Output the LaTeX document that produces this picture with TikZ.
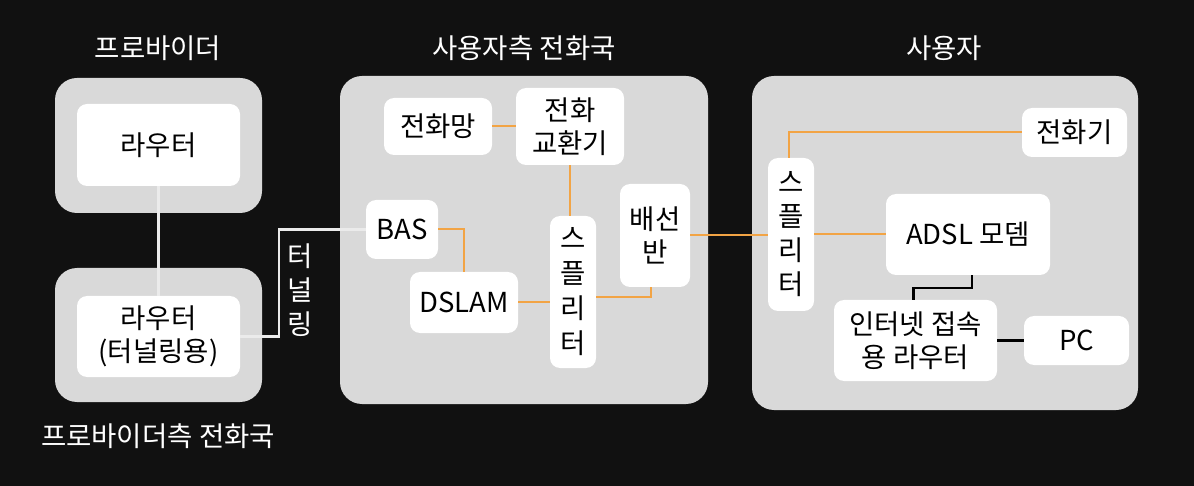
\documentclass[tikz,border=0pt]{standalone}
\usepackage{fontspec}
\setmainfont{Noto Sans CJK KR}
\usetikzlibrary{positioning}

\definecolor{bgdark}{HTML}{111111}
\definecolor{grouppanel}{HTML}{D9D9D9}
\definecolor{linkorange}{HTML}{F2A445}

\tikzset{
  box/.style={rectangle, rounded corners=10pt, fill=white, inner sep=0pt, align=center,
    font=\fontsize{27.5}{33}\selectfont},
  group/.style={fill=grouppanel, rounded corners=22pt},
  title/.style={text=white, font=\fontsize{27.5}{33}\selectfont},
  wline/.style={draw=white!92!black, line width=2.2pt},
  oline/.style={draw=linkorange, line width=2pt},
  kline/.style={draw=black, line width=2.6pt},
}

\begin{document}
\begin{tikzpicture}[x=1pt, y=-1pt]
            \fill[bgdark] (0,0) rectangle (1194,486);
            \useasboundingbox (0,0) rectangle (1194,486);

            % panels
            \fill[group] (55,78) rectangle (262,213);
            \fill[group] (55,268) rectangle (262,402);
            \fill[group] (340,76) rectangle (708,404);
            \fill[group] (752,76) rectangle (1138,410);

            \node[title] (tprov) at (158,48) {프로바이더};
            \node[title] (tco) at (524,48) {사용자측 전화국};
            \node[title] (tuser) at (944,48) {사용자};
            \node[title] (tprovco) at (158,436) {프로바이더측 전화국};

            % provider
            \node[box, minimum width=163pt, minimum height=82pt] (rtop) at (158.5,145) {라우터};
            \node[box, minimum width=163pt, minimum height=81pt] (rtun) at (158.5,336.5) {라우터\\(터널링용)};
            \node[title, align=center, font=\fontsize{27.5}{34}\selectfont] (tunnel) at (300,290) {터\\널\\링};

            % central office
            \node[box, minimum width=108pt, minimum height=57pt] (pstn) at (438,126.5) {전화망};
            \node[box, minimum width=108pt, minimum height=77pt] (exch) at (570,126.5) {전화\\교환기};
            \node[box, minimum width=72pt, minimum height=59pt] (bas) at (402,229.5) {BAS};
            \node[box, minimum width=108pt, minimum height=61pt] (dslam) at (464,302.5) {DSLAM};
            \node[box, minimum width=46pt, minimum height=152pt, font=\fontsize{27.5}{35}\selectfont] (splitco) at (573,292) {스\\플\\리\\터};
            \node[box, minimum width=70pt, minimum height=103pt] (mdf) at (655,235.5) {배선\\반};

            % user side
            \node[box, minimum width=46pt, minimum height=153pt, font=\fontsize{27.5}{34}\selectfont] (splituser) at (791,234.5) {스\\플\\리\\터};
            \node[box, minimum width=105pt, minimum height=49pt] (phone) at (1074.5,132.5) {전화기};
            \node[box, minimum width=164pt, minimum height=81pt] (modem) at (968,234.5) {ADSL 모뎀};
            \node[box, minimum width=163pt, minimum height=81pt] (rhome) at (915.5,340.5) {인터넷 접속\\용 라우터};
            \node[box, minimum width=105pt, minimum height=49pt] (pc) at (1076.5,340.5) {PC};

            % links
            \draw[wline] (rtop) -- (rtun);
            \draw[wline] (rtun.east) -- ++(39,0) |- (bas.west);
            \draw[oline] (pstn.east) -- (exch.west);
            \draw[oline] (bas.east) -| (dslam.north);
            \draw[oline] (dslam.east) -- (dslam.east -| splitco.west);
            \draw[oline] (exch.south) -- (exch.south |- splitco.north);
            \draw[oline] ([yshift=-5pt]splitco.east) -| ([xshift=-4pt]mdf.south);
            \draw[oline] (mdf.east) -- (mdf.east -| splituser.west);
            \draw[oline] ([xshift=-2pt]splituser.north) |- (phone.west);
            \draw[oline] (splituser.east) -- (splituser.east -| modem.west);
            \draw[kline] ([xshift=4pt]modem.south) -- ++(0,13) -| ([xshift=-2pt]rhome.north);
            \draw[kline] (rhome.east) -- (pc.west);
        \end{tikzpicture}
\end{document}
